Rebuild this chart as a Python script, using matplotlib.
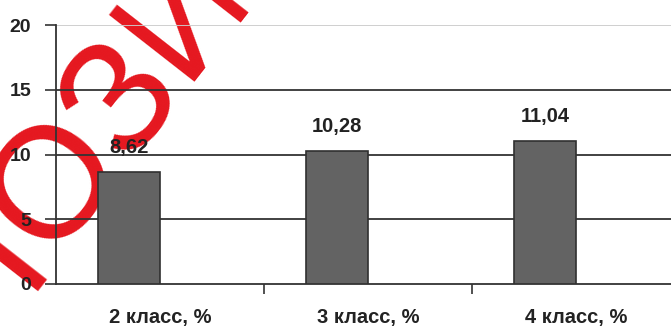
import matplotlib.pyplot as plt

categories = ['2 класс, %', '3 класс, %', '4 класс, %']
values = [8.62, 10.28, 11.04]
value_labels = ['8,62', '10,28', '11,04']
y_ticks = [0, 5, 10, 15, 20]

plt.rcParams['font.family'] = ['Liberation Sans', 'DejaVu Sans']

W, H = 671, 327
fig = plt.figure(figsize=(W / 100, H / 100), dpi=100)
ax = fig.add_axes([56 / W, 43 / H, 624 / W, 259 / H])

x = list(range(len(categories)))
bar_x = [i - 0.15 for i in x]
ax.bar(bar_x, values, width=0.3, color='#636363', edgecolor='#303030', linewidth=1.2, zorder=3)

for bx, v, lab in zip(bar_x, values, value_labels):
    ax.annotate(lab, (bx, v), xytext=(0, 11), textcoords='offset points',
                ha='center', va='bottom', fontsize=14.5, fontweight='bold', color='#222222')

ax.set_xlim(-0.5, 2.5)
ax.set_ylim(0, 20)
ax.set_yticks(y_ticks)
ax.set_yticklabels([str(t) for t in y_ticks], fontsize=14, fontweight='bold', color='#222222')

# gridlines
for t in y_ticks[1:]:
    ax.axhline(t, color='#cccccc' if t == 20 else '#333333', linewidth=1.3, zorder=1)

ax.set_xticks([0.5, 1.5])
ax.set_xticklabels([])
ax.tick_params(axis='x', length=7, width=1.2, color='#333333', direction='out')
ax.tick_params(axis='y', length=8, width=1.2, color='#333333', pad=10)
for i, c in enumerate(categories):
    ax.text(i, -0.13, c, transform=ax.get_xaxis_transform(), ha='center', va='center',
            fontsize=14.5, fontweight='bold', color='#222222')

for s in ['top', 'right']:
    ax.spines[s].set_visible(False)
for s in ['left', 'bottom']:
    ax.spines[s].set_color('#333333')
    ax.spines[s].set_linewidth(1.3)

# watermark (under the grid), split at the "О" so it can be anchored there
wm_x, wm_y = 50 / W, 1 - 258 / H
wm_style = dict(rotation=52, rotation_mode='anchor', fontsize=114, color='#e5171f',
                va='baseline', transform=fig.transFigure, clip_on=False, zorder=0.5)
ax.text(wm_x, wm_y, 'РЕП', ha='right', **wm_style)
ax.text(wm_x, wm_y, 'ОЗИТОРИЙ', ha='left', **wm_style)

fig.savefig('out.png', dpi=100)
